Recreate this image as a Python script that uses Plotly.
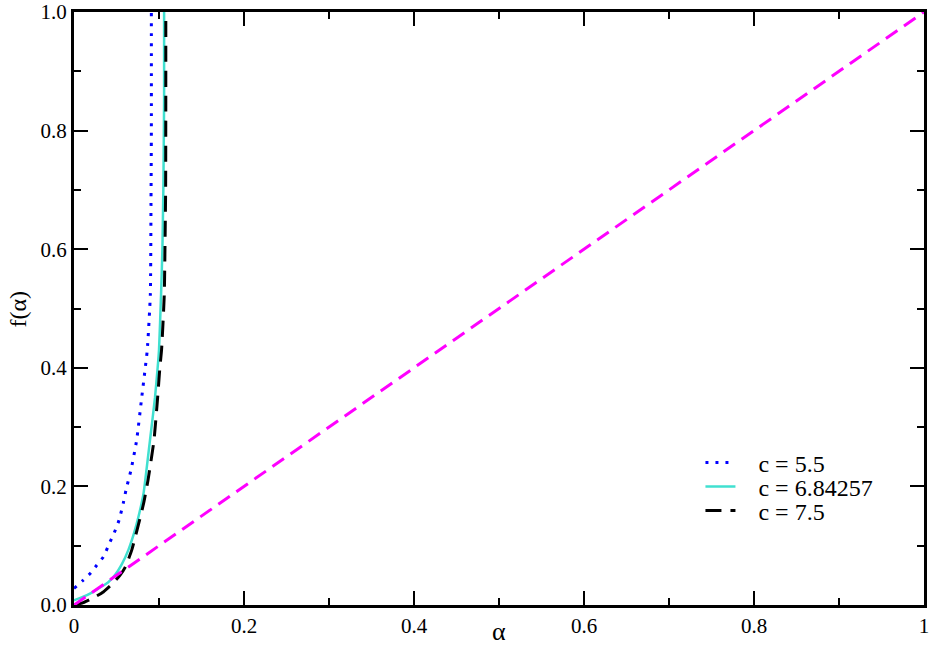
import plotly.graph_objects as go

# c = 5.5 (blue dotted)
alpha_c55 = [0.0, 0.011, 0.0196, 0.0267, 0.0345, 0.042, 0.0474, 0.053, 0.058, 0.0612, 0.0671,
             0.0737, 0.0796, 0.0835, 0.0862, 0.0898, 0.0906, 0.091, 0.091]
f_c55 = [0.028, 0.042, 0.054, 0.067, 0.081, 0.105, 0.122, 0.143, 0.172, 0.194, 0.228,
         0.278, 0.349, 0.396, 0.43, 0.523, 0.683, 0.8, 1.0]

# c = 6.84257 (turquoise solid)
alpha_c68 = [0.0, 0.011, 0.021, 0.03, 0.04, 0.048, 0.056, 0.064, 0.072, 0.0788, 0.082, 0.0894, 0.0953, 0.0984,
             0.100, 0.1024, 0.104, 0.1051, 0.106, 0.106]
f_c68 = [0.008, 0.014, 0.021, 0.029, 0.038, 0.05, 0.068, 0.093, 0.128, 0.167, 0.19, 0.278, 0.35, 0.4,
         0.43, 0.523, 0.6, 0.7, 0.85, 1.0]

# c = 7.5 (black dashed)
alpha_c75 = [0.0, 0.011, 0.0227, 0.0345, 0.046, 0.054, 0.06, 0.068, 0.0757, 0.082, 0.087, 0.0941,
             0.0984, 0.101, 0.103, 0.1062, 0.107, 0.1078, 0.108, 0.108]
f_c75 = [0.0, 0.004, 0.012, 0.022, 0.037, 0.05, 0.063, 0.093, 0.135, 0.172, 0.21, 0.278,
         0.35, 0.4, 0.43, 0.523, 0.6, 0.7, 0.85, 1.0]

# diagonal f = alpha (magenta dashed)
alpha_diag = [0.0, 1.0]
f_diag = [0.0, 1.0]

x_tickvals = [0, 0.2, 0.4, 0.6, 0.8, 1.0]
x_ticktext = ["0", "0.2", "0.4", "0.6", "0.8", "1"]
y_tickvals = [0, 0.2, 0.4, 0.6, 0.8, 1.0]
y_ticktext = ["0.0", "0.2", "0.4", "0.6", "0.8", "1.0"]

x_title = "α"
y_title = "f(α)"

FONT = "Liberation Serif, Times New Roman, DejaVu Serif, serif"
NB = "\u00a0\u00a0\u00a0"

fig = go.Figure()
fig.add_trace(go.Scatter(x=alpha_c55, y=f_c55, mode="lines", name=NB + "c = 5.5", legend="legend",
                         line=dict(color="#0000ff", width=3, dash="3px,7px", shape="spline", smoothing=0.5)))
fig.add_trace(go.Scatter(x=alpha_c68, y=f_c68, mode="lines", name=NB + "c = 6.84257", legend="legend2",
                         line=dict(color="#40e0d0", width=2.5, shape="spline", smoothing=0.5)))
fig.add_trace(go.Scatter(x=alpha_c75, y=f_c75, mode="lines", name=NB + "c = 7.5", legend="legend3",
                         line=dict(color="#000000", width=3, dash="16px,9px", shape="spline", smoothing=0.5)))
fig.add_trace(go.Scatter(x=alpha_diag, y=f_diag, mode="lines", showlegend=False,
                         line=dict(color="#ff00ff", width=3, dash="14px,8px")))

axis_common = dict(
    range=[0, 1], showline=True, linecolor="black", linewidth=3, mirror="ticks",
    ticks="inside", ticklen=14, tickwidth=2, tickcolor="black",
    showgrid=False, zeroline=False, automargin=False,
    tickfont=dict(family=FONT, size=21, color="black"),
    minor=dict(ticks="inside", ticklen=7, tickwidth=2, tickcolor="black", dtick=0.1, showgrid=False),
)

fig.update_xaxes(**axis_common, tickvals=x_tickvals, ticktext=x_ticktext)
fig.update_yaxes(**axis_common, tickvals=y_tickvals, ticktext=y_ticktext)

leg_font = dict(family=FONT, size=24, color="black")
leg_common = dict(x=0.737, xanchor="left", yanchor="middle", bgcolor="rgba(0,0,0,0)",
                  font=leg_font, itemwidth=30)

fig.update_layout(
    width=932, height=657,
    margin=dict(l=74, r=8, t=12, b=52),
    plot_bgcolor="white", paper_bgcolor="white",
    font=dict(family=FONT, size=20, color="black"),
    legend=dict(y=0.2395, **leg_common),
    legend2=dict(y=0.199, **leg_common),
    legend3=dict(y=0.1585, **leg_common),
    annotations=[
        dict(text=x_title, xref="paper", yref="paper", x=0.5, y=-0.0455,
             xanchor="center", yanchor="middle", showarrow=False,
             font=dict(family=FONT, size=26, color="black")),
        dict(text=y_title, xref="paper", yref="paper", x=-0.0659, y=0.5,
             xanchor="center", yanchor="middle", showarrow=False, textangle=-90,
             font=dict(family=FONT, size=24, color="black")),
    ],
)

fig.write_html("out.html", config={"displayModeBar": False},
               post_script="document.body.style.margin='0';")
